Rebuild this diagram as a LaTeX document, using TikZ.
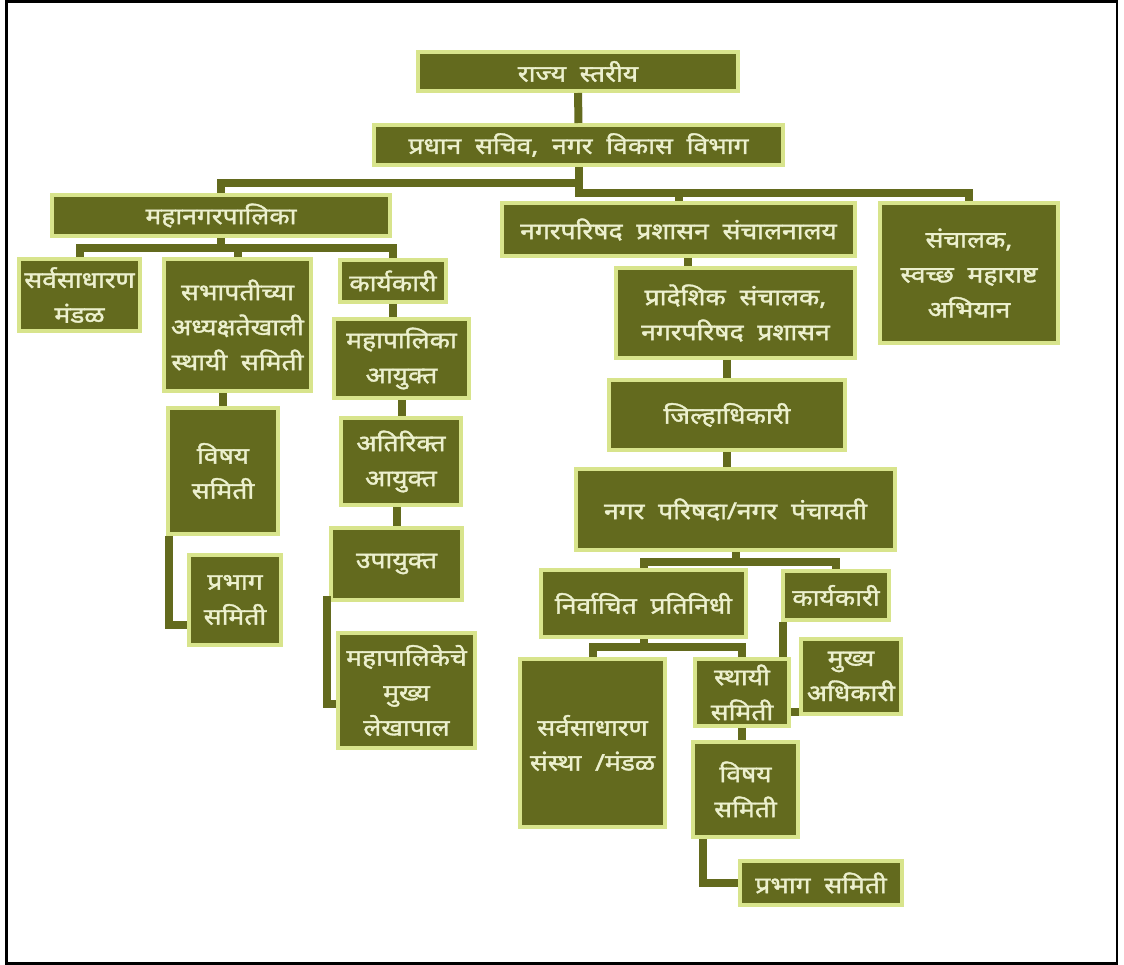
\documentclass[tikz,border=0pt]{standalone}
\usepackage{fontspec}
\usepackage{tikz}
\usetikzlibrary{positioning,calc}
\newfontfamily\deva[Script=Devanagari,FakeBold=1.6,FakeStretch=1.15,WordSpace=2]{Noto Sans}
\definecolor{OliveFill}{RGB}{99,106,30}
\definecolor{OliveLine}{RGB}{216,228,140}
\definecolor{OliveText}{RGB}{236,240,206}
\tikzstyle{every orgbox} = []
\tikzstyle{orgbox} = [rectangle, draw=OliveLine, fill=OliveFill, line width=4pt,
text=OliveText, font=\deva\fontsize{23}{35}\selectfont,
align=center, inner sep=0pt,
every orgbox]
\tikzstyle{link} = [draw=OliveFill, line width=8pt]
\tikzstyle{frame} = [draw=black, line width=2.5pt]

\begin{document}
\begin{tikzpicture}[x=1pt,y=-1pt]
	\useasboundingbox (0,0) rectangle (1124,965);
	\draw[frame] (6.5,1.5) rectangle (1117,963.5);

	\node[orgbox, minimum width=320, minimum height=39] (rajya) at (578,71.5) {राज्य स्तरीय};
	\node[orgbox, minimum width=409, minimum height=40] (sachiv) at (578.5,145) {प्रधान सचिव, नगर विकास विभाग};
	\node[orgbox, minimum width=338, minimum height=41] (mahanagar) at (221,215.5) {महानगरपालिका};
	\node[orgbox, minimum width=353, minimum height=53] (sanchalanalay) at (678.5,229.5) {नगरपरिषद प्रशासन संचालनालय};
	\node[orgbox, minimum width=178, minimum height=140] (swachh) at (969,273) {संचालक,\\ स्वच्छ महाराष्ट\\ अभियान};

	\node[orgbox, minimum width=121, minimum height=72] (mandal) at (79.5,295) {सर्वसाधारण\\ मंडळ};
	\node[orgbox, minimum width=147, minimum height=132] (sthayi) at (237.5,325) {सभापतीच्या\\ अध्यक्षतेखाली\\ स्थायी समिती};
	\node[orgbox, minimum width=106, minimum height=42] (karyakari) at (393,281) {कार्यकारी};
	\node[orgbox, minimum width=135, minimum height=79] (ayukta) at (401.5,358.5) {महापालिका\\ आयुक्त};
	\node[orgbox, minimum width=110, minimum height=126] (vishay) at (223,471) {विषय\\ समिती};
	\node[orgbox, minimum width=92, minimum height=90] (prabhag) at (235,600) {प्रभाग\\ समिती};
	\node[orgbox, minimum width=120, minimum height=87] (atirikta) at (401,461.5) {अतिरिक्त\\ आयुक्त};
	\node[orgbox, minimum width=131, minimum height=72] (upayukta) at (396.5,564) {उपायुक्त};
	\node[orgbox, minimum width=137, minimum height=115] (lekhapal) at (406.5,690.5) {महापालिकेचे\\ मुख्य\\ लेखापाल};

	\node[orgbox, minimum width=239, minimum height=90] (pradeshik) at (735.5,313) {प्रादेशिक संचालक,\\ नगरपरिषद प्रशासन};
	\node[orgbox, minimum width=236, minimum height=70] (jilha) at (727,415) {जिल्हाधिकारी};
	\node[orgbox, minimum width=319, minimum height=81] (parishad) at (735.5,509.5) {नगर परिषदा/नगर पंचायती};
	\node[orgbox, minimum width=205, minimum height=67] (nirvachit) at (643.5,603.5) {निर्वाचित प्रतिनिधी};
	\node[orgbox, minimum width=106, minimum height=49] (karyakari2) at (836,595.5) {कार्यकारी};
	\node[orgbox, minimum width=145, minimum height=168] (sanstha) at (592.5,743) {सर्वसाधारण\\ संस्था /मंडळ};
	\node[orgbox, minimum width=94, minimum height=67] (sthayi2) at (742,692.5) {स्थायी\\ समिती};
	\node[orgbox, minimum width=100, minimum height=75] (mukhya) at (851,676.5) {मुख्य\\ अधिकारी};
	\node[orgbox, minimum width=105, minimum height=95] (vishay2) at (745.5,789.5) {विषय\\ समिती};
	\node[orgbox, minimum width=162, minimum height=44] (prabhag2) at (821,883) {प्रभाग समिती};

	\draw[link] (rajya) -- (sachiv);
	\draw[link] (sachiv.south) -- ++(0,16) -| (mahanagar.north);
	\draw[link] (sachiv.south) -- ++(0,26) -| (sanchalanalay.north);
	\draw[link] (sachiv.south) ++(0,26) -| (swachh.north);

	\draw[link] (mahanagar.south) -- ++(0,10) -| (mandal.north);
	\draw[link] (mahanagar.south) ++(0,10) -| (sthayi.north);
	\draw[link] (mahanagar.south) ++(0,10) -| (karyakari.north);
	\draw[link] (karyakari.south) -- (karyakari.south |- ayukta.north);
	\draw[link] (ayukta.south) -- (ayukta.south |- atirikta.north);
	\draw[link] (upayukta.north |- atirikta.south) -- (upayukta.north);
	\draw[link] ($(upayukta.south west)+(-2,-6)$) |- ($(lekhapal.west)+(0,13)$);
	\draw[link] (vishay.north |- sthayi.south) -- (vishay.north);
	\draw[link] ($(vishay.south west)+(3,0)$) |- ($(prabhag.west)+(0,25)$);

	\coordinate (down1) at ($(sanchalanalay.south)+(9,0)$);
	\draw[link] (down1) -- (down1 |- pradeshik.north);
	\draw[link] (jilha.north |- pradeshik.south) -- (jilha.north);
	\draw[link] (jilha.south) -- (jilha.south |- parishad.north);
	\draw[link] (parishad.south) -- ++(0,10) -| (nirvachit.north);
	\draw[link] (parishad.south) ++(0,10) -| (karyakari2.north);
	\draw[link] (nirvachit.south) -- ++(0,8) -| (sanstha.north);
	\draw[link] (nirvachit.south) ++(0,8) -| (sthayi2.north);
	\coordinate (down2) at ($(karyakari2.south west)+(2,0)$);
	\draw[link] (down2) -- (down2 |- sthayi2.north);
	\coordinate (side1) at ($(sthayi2.east)+(0,19)$);
	\draw[link] (side1) -- (side1 -| mukhya.west);
	\draw[link] (sthayi2.south) -- (sthayi2.south |- vishay2.north);
	\draw[link] ($(vishay2.south west)+(12,0)$) |- (prabhag2.west);
\end{tikzpicture}
\end{document}
